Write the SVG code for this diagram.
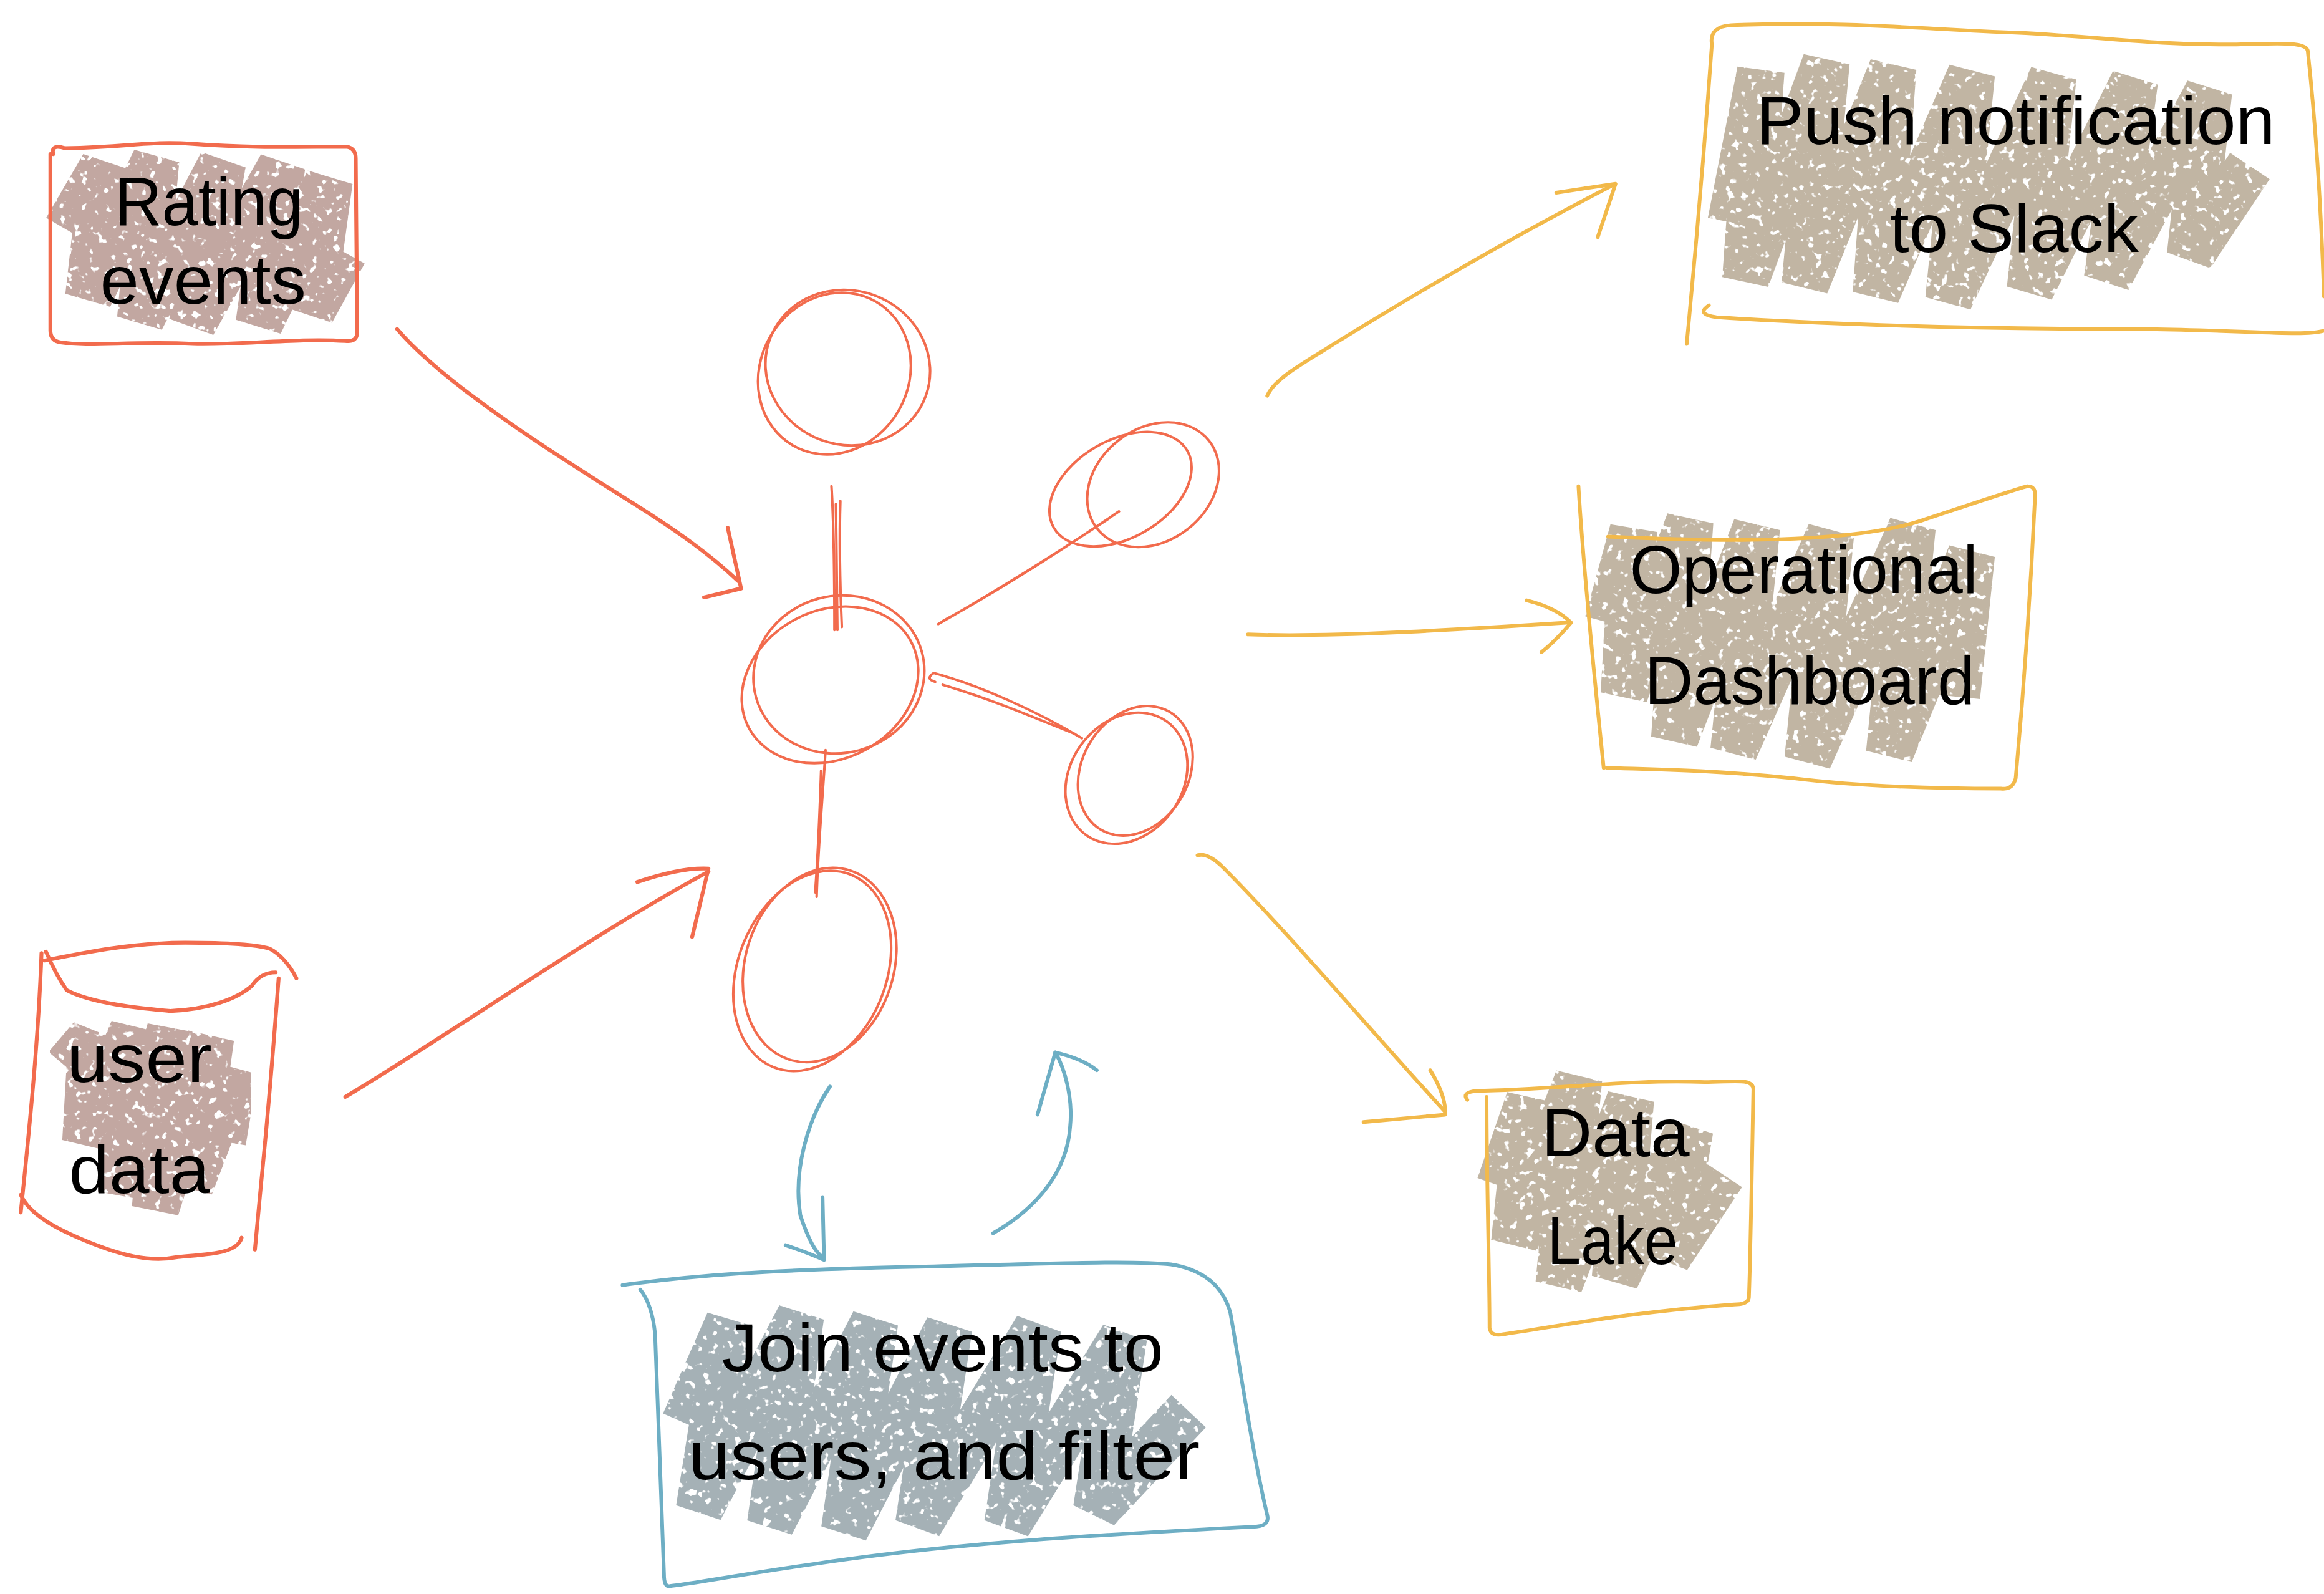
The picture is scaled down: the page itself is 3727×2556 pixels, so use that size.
<svg xmlns="http://www.w3.org/2000/svg" width="3727" height="2556" viewBox="0 0 3727 2556">
  <defs>
    <!-- speckled crayon texture for the scribble fills -->
    <filter id="chalk" x="-10%" y="-10%" width="120%" height="120%">
      <feTurbulence type="fractalNoise" baseFrequency="0.2" numOctaves="2" seed="7" result="noise"/>
      <feColorMatrix in="noise" type="matrix" values="0 0 0 0 0  0 0 0 0 0  0 0 0 0 0  -15 0 0 0 10.4" result="mask"/>
      <feComposite in="SourceGraphic" in2="mask" operator="in"/>
    </filter>
    <style>
      .o { fill: none; stroke: #F26B4D; stroke-width: 2.6; stroke-linecap: round; stroke-linejoin: round; }
      .hub { fill: none; stroke: #F26B4D; stroke-width: 1.7; stroke-linecap: round; stroke-linejoin: round; }
      .y { fill: none; stroke: #F2B94A; stroke-width: 2.5; stroke-linecap: round; stroke-linejoin: round; }
      .b { fill: none; stroke: #6DAEC4; stroke-width: 2.5; stroke-linecap: round; stroke-linejoin: round; }
      .scr { fill: none; stroke-width: 32; stroke-linejoin: bevel; stroke-linecap: butt; filter: url(#chalk); }
      .rose { stroke: #C2A7A1; }
      .sand { stroke: #C1B5A3; }
      .slate { stroke: #A5B1B6; }
      .t { font-family: "Liberation Sans", "DejaVu Sans", sans-serif; font-size: 46px; fill: #000000; text-anchor: middle; }
    </style>
  </defs>
  <rect width="3727" height="2556" fill="#ffffff"/>
  <g transform="scale(2.3769)">

    <!-- Rating events -->
    <g id="rating-events">
      <polyline class="scr rose" points="45,155 70,112 60,200 105,108 95,215 150,110 130,218 190,112 175,218 222,122 210,210 232,170"/>
      <path class="o" d="M36,104 Q34,97 44,100 C90,99 100,95 130,97 C170,100 200,99 234,99 Q240,100 240,107 L241,224 Q241,231 233,230 C200,228 160,233 130,232 C90,230 60,234 41,231 Q34,230 34,223 L34,104"/>
      <text class="t" x="141" y="152" textLength="127" lengthAdjust="spacingAndGlyphs">Rating</text>
      <text class="t" x="137" y="205" textLength="139" lengthAdjust="spacingAndGlyphs">events</text>
    </g>

    <!-- User data (cylinder) -->
    <g id="user-data">
      <polyline class="scr rose" points="45,720 62,700 58,770 90,695 82,805 115,695 105,815 142,700 128,800 158,722 150,770"/>
      <path class="o" d="M28,643 C26,700 20,760 14,818"/>
      <path class="o" d="M30,648 C60,642 90,636 125,636 C150,636 172,637 182,640 C188,643 195,650 200,660"/>
      <path class="o" d="M31,642 Q38,658 45,668 C60,676 90,680 115,682 C140,681 160,674 170,665 Q176,656 186,656"/>
      <path class="o" d="M188,660 C185,700 180,760 176,800 L172,843"/>
      <path class="o" d="M14,806 C20,820 40,830 60,838 C80,846 100,852 120,848 C140,846 160,846 163,835"/>
      <text class="t" x="94" y="730" textLength="98" lengthAdjust="spacingAndGlyphs">user</text>
      <text class="t" x="94" y="805" textLength="95" lengthAdjust="spacingAndGlyphs">data</text>
    </g>

    <!-- Stream processing hub -->
    <g id="hub">
      <ellipse class="hub" cx="563" cy="252" rx="50" ry="56" transform="rotate(30 563 252)"/>
      <ellipse class="hub" cx="572" cy="248" rx="56" ry="52" transform="rotate(20 572 248)"/>
      <ellipse class="hub" cx="560" cy="462" rx="62" ry="50" transform="rotate(-28 560 462)"/>
      <ellipse class="hub" cx="566" cy="455" rx="58" ry="53" transform="rotate(-15 566 455)"/>
      <ellipse class="hub" cx="756" cy="330" rx="52" ry="33" transform="rotate(-30 756 330)"/>
      <ellipse class="hub" cx="778" cy="327" rx="48" ry="38" transform="rotate(-38 778 327)"/>
      <ellipse class="hub" cx="760" cy="525" rx="38" ry="47" transform="rotate(35 760 525)"/>
      <ellipse class="hub" cx="766" cy="520" rx="36" ry="46" transform="rotate(30 766 520)"/>
      <ellipse class="hub" cx="548" cy="655" rx="50" ry="70" transform="rotate(22 548 655)"/>
      <ellipse class="hub" cx="553" cy="651" rx="50" ry="67" transform="rotate(18 553 651)"/>
      <path class="hub" d="M561,328 C563,360 563,395 563,425 M567,338 C566,370 567,400 568,423 M564,340 L565,425"/>
      <path class="hub" d="M633,421 C670,400 710,375 748,350 M636,419 C675,398 715,372 755,345"/>
      <path class="hub" d="M631,460 Q624,458 630,454 C660,462 700,480 730,498 M636,462 C670,472 700,485 725,495"/>
      <path class="hub" d="M557,506 C555,540 552,570 551,605 M554,520 C553,550 552,575 550,602"/>
    </g>

    <!-- Push notification to Slack -->
    <g id="push-notification">
      <polyline class="scr sand" points="1168,150 1188,48 1178,188 1232,42 1218,192 1277,46 1266,198 1330,50 1315,202 1385,52 1370,195 1440,55 1422,188 1490,62 1478,172 1518,112"/>
      <path class="y" d="M1155,30 Q1153,18 1168,17 C1250,14 1300,20 1360,22 C1420,25 1450,30 1500,30 C1530,30 1555,27 1557,34 C1562,80 1566,140 1568,200"/>
      <path class="y" d="M1155,30 C1150,100 1145,160 1138,232"/>
      <path class="y" d="M1153,206 Q1144,212 1158,214 C1250,220 1350,222 1450,222 C1520,223 1555,227 1568,223"/>
      <text class="t" x="1360" y="97" textLength="350" lengthAdjust="spacingAndGlyphs">Push notification</text>
      <text class="t" x="1359" y="170" textLength="168" lengthAdjust="spacingAndGlyphs">to Slack</text>
    </g>

    <!-- Operational Dashboard -->
    <g id="operational-dashboard">
      <polyline class="scr sand" points="1085,420 1102,358 1096,468 1140,352 1130,498 1185,356 1170,506 1235,360 1220,512 1290,356 1275,508 1330,374 1320,470"/>
      <path class="y" d="M1065,328 C1068,380 1075,450 1082,518"/>
      <path class="y" d="M1085,362 C1150,365 1250,368 1300,350 C1330,340 1360,330 1368,328 Q1374,328 1373,336 C1370,400 1365,470 1360,525 Q1358,533 1350,532 C1300,532 1250,530 1210,525 C1150,519 1110,519 1084,518"/>
      <text class="t" x="1217" y="400" textLength="235" lengthAdjust="spacingAndGlyphs">Operational</text>
      <text class="t" x="1221" y="475" textLength="223" lengthAdjust="spacingAndGlyphs">Dashboard</text>
    </g>

    <!-- Data Lake -->
    <g id="data-lake">
      <polyline class="scr sand" points="1012,800 1032,742 1022,838 1065,728 1052,866 1100,742 1090,862 1140,762 1125,848 1162,792"/>
      <path class="y" d="M990,742 Q986,737 996,736 C1050,735 1100,728 1150,730 C1170,730 1183,727 1183,735 C1182,790 1181,850 1180,875 Q1180,880 1170,880 C1100,885 1050,895 1015,900 Q1006,902 1005,896 C1005,860 1003,800 1003,740"/>
      <text class="t" x="1090" y="780" textLength="100" lengthAdjust="spacingAndGlyphs">Data</text>
      <text class="t" x="1088" y="853" textLength="88" lengthAdjust="spacingAndGlyphs">Lake</text>
    </g>

    <!-- Join events to users, and filter -->
    <g id="join-filter">
      <polyline class="scr slate" points="462,960 492,892 472,1018 540,888 520,1028 590,892 570,1032 640,896 620,1028 700,896 680,1028 758,902 740,1018 802,952"/>
      <path class="b" d="M420,867 C470,860 520,857 600,855 C700,853 760,850 790,853 Q822,858 830,885 C838,930 845,980 855,1022 Q857,1030 845,1030 C750,1035 650,1040 550,1055 C500,1062 470,1068 452,1070 Q448,1071 448,1062 C446,1010 444,950 442,900 Q440,880 432,870"/>
      <text class="t" x="636" y="925" textLength="298" lengthAdjust="spacingAndGlyphs">Join events to</text>
      <text class="t" x="637" y="998" textLength="345" lengthAdjust="spacingAndGlyphs">users, and filter</text>
    </g>

    <!-- Connectors -->
    <g id="connectors">
      <path class="o" d="M268,222 C300,260 380,310 420,335 C460,360 480,375 498,392"/>
      <path class="o" d="M491,356 L500,397 L475,403"/>
      <path class="o" d="M233,740 C300,700 400,630 478,588"/>
      <path class="o" d="M430,595 Q460,585 478,586 L467,632"/>

      <path class="y" d="M855,267 C860,255 880,245 900,232 C960,195 1020,160 1088,125"/>
      <path class="y" d="M1050,130 L1090,124 L1078,160"/>
      <path class="y" d="M842,428 C900,430 980,425 1058,420"/>
      <path class="y" d="M1030,405 Q1050,410 1060,420 Q1050,432 1040,440"/>
      <path class="y" d="M808,577 Q815,575 825,585 C870,630 920,690 975,750"/>
      <path class="y" d="M965,722 Q976,740 975,752 L920,757"/>

      <path class="b" d="M560,733 C545,755 535,790 540,820 C545,835 550,845 555,848"/>
      <path class="b" d="M530,840 Q545,845 556,850 L555,808"/>
      <path class="b" d="M670,832 C700,815 720,790 722,760 C724,740 718,720 712,710"/>
      <path class="b" d="M700,752 L712,710 Q730,714 740,722"/>
    </g>
  </g>
</svg>
